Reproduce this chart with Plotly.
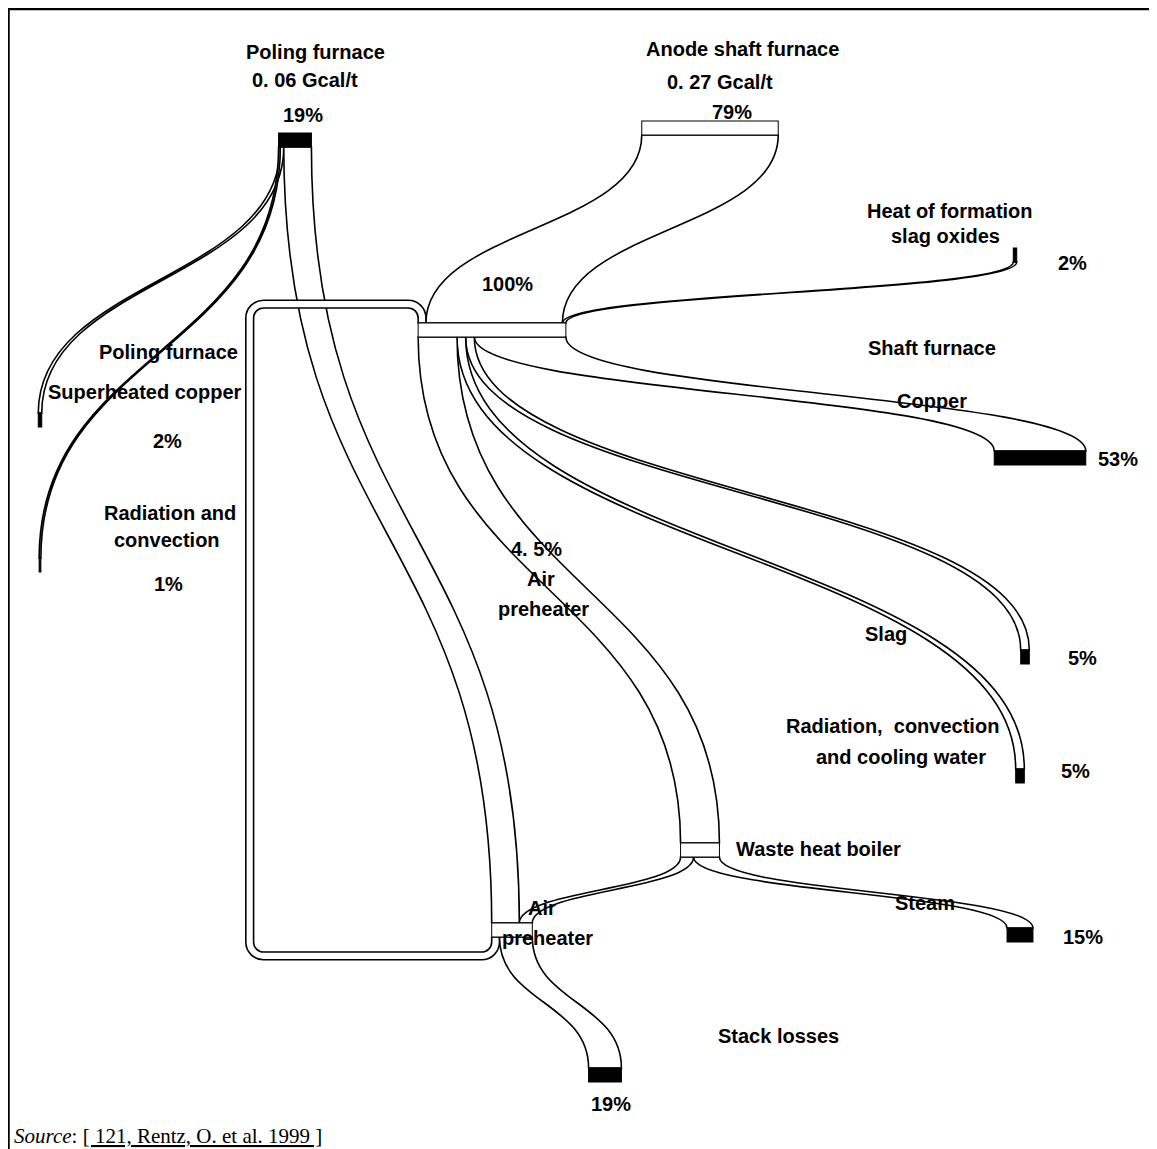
import plotly.graph_objects as go

# page body has an 8px margin, so the figure is sized to fit the window
OFF = 8
W, H = 1157 - OFF, 1149 - OFF

# ---- data (percent of total energy input) ----
node_labels = [
    "Poling furnace 0.06 Gcal/t",          # 0
    "Anode shaft furnace 0.27 Gcal/t",     # 1
    "Heat of formation slag oxides",       # 2
    "Shaft furnace",                       # 3
    "Poling furnace superheated copper",   # 4
    "Poling furnace radiation and convection",  # 5
    "Copper",                              # 6
    "Slag",                                # 7
    "Radiation, convection and cooling water",  # 8
    "Waste heat boiler",                   # 9
    "Steam",                               # 10
    "Air preheater",                       # 11
    "Stack losses",                        # 12
]
link_source = [0, 0, 0, 1, 2, 11, 3, 3, 3, 3, 9, 9, 11]
link_target = [4, 5, 11, 3, 3, 3, 6, 7, 8, 9, 10, 11, 12]
link_value = [2, 1, 16, 79, 2, 4.5, 53, 5, 5, 22.5, 15, 7.5, 19]

# ---- layout: node centres in window pixels ----
node_px = {
    0: (295, 140), 1: (710, 128), 2: (1015, 255), 3: (492, 330),
    4: (40, 420), 5: (40, 565), 6: (1040, 458), 7: (1025, 657),
    8: (1020, 776), 9: (700, 850), 10: (1020, 935), 11: (512, 930),
    12: (605, 1075),
}
node_colors = ["black", "white", "black", "white", "black", "black", "black",
               "black", "black", "white", "black", "white", "black"]

# vertical orientation: node.x drives screen-y, node.y drives screen-x
nx = [(node_px[i][1] - OFF) / W for i in range(len(node_labels))]
ny = [(node_px[i][0] - OFF) / H for i in range(len(node_labels))]

fig = go.Figure(go.Sankey(
    orientation="v",
    arrangement="fixed",
    domain=dict(x=[0, 1], y=[0, 1]),
    node=dict(
        label=[""] * len(node_labels),
        customdata=node_labels,
        hovertemplate="%{customdata}<br>%{value}%<extra></extra>",
        x=nx, y=ny,
        pad=117, thickness=14,
        color=node_colors,
        line=dict(color="black", width=1),
    ),
    link=dict(
        source=link_source, target=link_target, value=link_value,
        color="white",
        line=dict(color="black", width=1.6),
    ),
))


def px2paper(px, py):
    return (px - OFF) / W, 1 - (py - OFF) / H


FONT = "Liberation Sans, Arial, sans-serif"
texts = [
    ("Poling furnace", 315, 52), ("0. 06 Gcal/t", 305, 80), ("19%", 303, 115),
    ("Anode shaft furnace", 742, 49), ("0. 27 Gcal/t", 720, 82), ("79%", 732, 112),
    ("Heat of formation", 950, 211), ("slag oxides", 945, 236), ("2%", 1072, 263),
    ("100%", 507, 284),
    ("Shaft furnace", 932, 348),
    ("Poling furnace", 168, 352), ("Superheated copper", 145, 392), ("2%", 167, 441),
    ("Copper", 932, 401), ("53%", 1118, 459),
    ("Radiation and", 170, 513), ("convection", 167, 540), ("1%", 168, 584),
    ("4. 5%", 536, 549), ("Air", 541, 579), ("preheater", 543, 609),
    ("Slag", 886, 634), ("5%", 1082, 658),
    ("Radiation,  convection", 892, 726), ("and cooling water", 901, 757), ("5%", 1075, 771),
    ("Waste heat boiler", 818, 849),
    ("Steam", 925, 903), ("15%", 1083, 937),
    ("Air", 542, 908), ("preheater", 547, 938),
    ("Stack losses", 778, 1036),
    ("19%", 611, 1104),
]
annotations = []
for t, px, py in texts:
    ax, ay = px2paper(px, py)
    annotations.append(dict(
        text="<b>%s</b>" % t, x=ax, y=ay, xref="paper", yref="paper",
        showarrow=False, xanchor="center", yanchor="middle",
        font=dict(family=FONT, size=20, color="black")))
sx, sy = px2paper(12, 1136)
annotations.append(dict(
    text="<i>Source</i>: <u>[ 121, Rentz, O. et al. 1999 ]</u>",
    x=sx, y=sy, xref="paper", yref="paper", showarrow=False,
    xanchor="left", yanchor="middle",
    font=dict(family="Liberation Serif, Times New Roman, serif", size=21, color="black")))

shapes = [
    dict(type="line", xref="paper", yref="paper", x0=0, x1=1, y0=1 - 1 / H, y1=1 - 1 / H,
         line=dict(color="black", width=2.5)),
    dict(type="line", xref="paper", yref="paper", x0=0.5 / W, x1=0.5 / W, y0=1, y1=0,
         line=dict(color="black", width=2.5)),
]

fig.update_layout(
    width=W, height=H,
    margin=dict(l=0, r=0, t=0, b=0),
    paper_bgcolor="white", plot_bgcolor="white",
    annotations=annotations, shapes=shapes,
    showlegend=False,
)
fig.write_html("out.html")
